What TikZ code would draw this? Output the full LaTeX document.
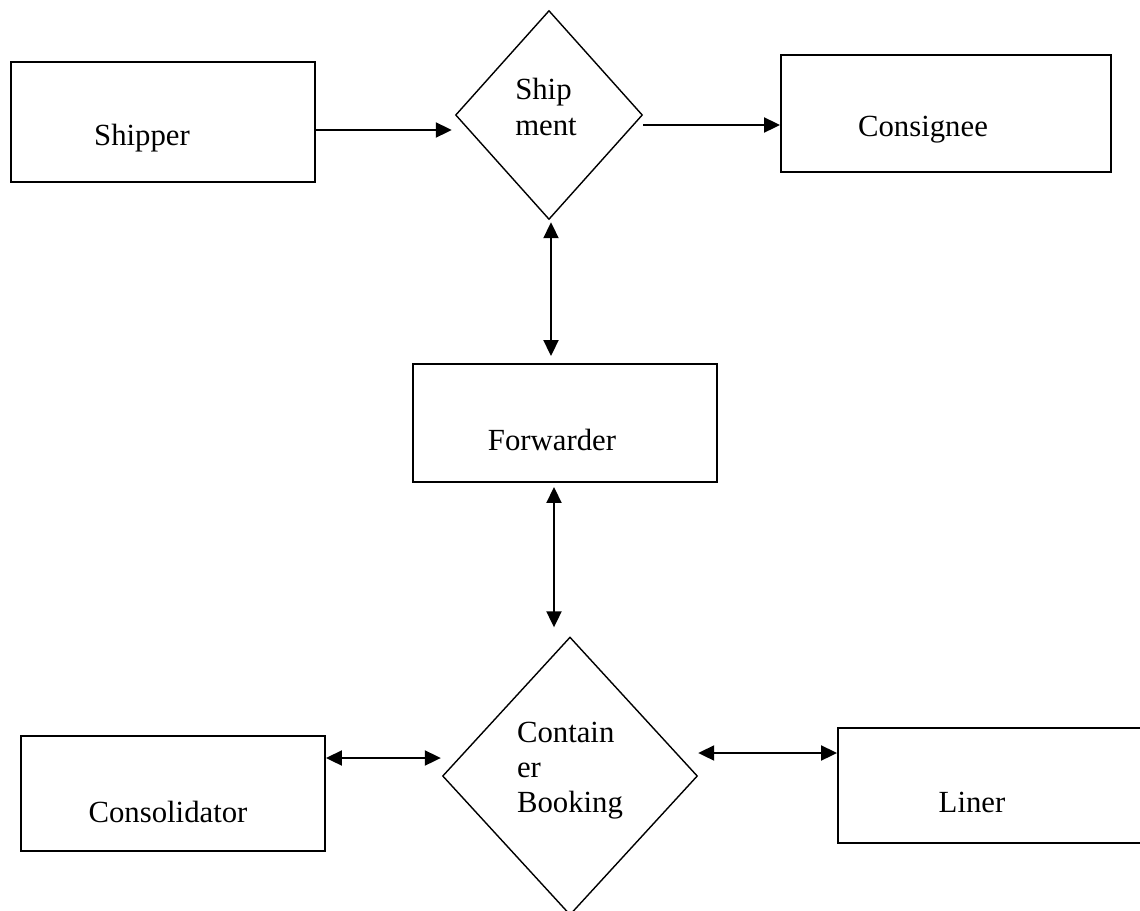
\documentclass[tikz,border=0pt]{standalone}
\usepackage{fontspec}
\setmainfont{Liberation Serif}
\usetikzlibrary{calc,shapes.geometric,arrows.meta}

\begin{document}
\begin{tikzpicture}[x=0.02cm, y=-0.02cm,
		box/.style={draw, line width=1.1pt, rectangle, inner sep=0pt, minimum width=6.08cm},
		choice/.style={draw, line width=0.8pt, diamond, inner sep=0pt},
		lbl/.style={font=\fontsize{17.5}{20}\selectfont, inner sep=0pt},
		arr/.style={line width=1.1pt, -{Triangle[length=0.32cm, width=0.3cm]}},
		dbl/.style={line width=1.1pt, {Triangle[length=0.32cm, width=0.3cm]}-{Triangle[length=0.32cm, width=0.3cm]}}]
			%%%%% START %%%%%
			\useasboundingbox (0, 0) rectangle (1140, 910);
			
			\node[box, minimum height=2.4cm, label={[lbl, anchor=base, xshift=-0.42cm, yshift=-0.32cm]center:Shipper}] (shipper) at (163, 122) {};
			\node[choice, minimum width=3.74cm, minimum height=4.18cm, label={[lbl, align=left, xshift=-0.06cm, yshift=0.16cm]center:Ship\\ment}] (shipment) at (549, 115) {};
			\node[box, minimum width=6.6cm, minimum height=2.34cm, label={[lbl, anchor=base, xshift=-0.46cm, yshift=-0.33cm]center:Consignee}] (consignee) at (946, 113.5) {};
			
			\node[box, minimum height=2.36cm, label={[lbl, anchor=base, xshift=-0.26cm, yshift=-0.34cm]center:Forwarder}] (forwarder) at (565, 423) {};
			
			\node[choice, minimum width=5.1cm, minimum height=5.56cm, label={[lbl, align=left, yshift=0.11cm]center:Contain\\er\\Booking}] (container) at (570, 776) {};
			\node[box, minimum height=2.3cm, label={[lbl, anchor=base, xshift=-0.1cm, yshift=-0.37cm]center:Consolidator}] (consolidator) at (173, 793.5) {};
			\node[box, minimum width=6.14cm, minimum height=2.3cm, label={[lbl, anchor=base, xshift=-0.39cm, yshift=-0.33cm]center:Liner}] (liner) at (991.5, 785.5) {};
			
			\draw[arr] ($(shipper.east)+(0, 8)$) -- ($(shipper.east -| shipment.west)+(-3, 8)$);
			\draw[arr] ($(shipment.east)+(0, 10)$) -- ($(shipment.east -| consignee.west)+(0, 10)$);
			\draw[dbl] ($(shipment.south)+(2, 2)$) -- ($(shipment.south |- forwarder.north)+(2, -7)$);
			\draw[dbl] ($(container.north |- forwarder.south)+(-16, 4)$) -- ($(container.north)+(-16, -9)$);
			\draw[dbl] ($(consolidator.east)+(0, -35.5)$) -- ($(consolidator.east -| container.west)+(-1, -35.5)$);
			\draw[dbl] ($(container.east)+(0, -23)$) -- ($(container.east -| liner.west)+(0, -23)$);
			%%%%% END %%%%%
		\end{tikzpicture}
\end{document}
